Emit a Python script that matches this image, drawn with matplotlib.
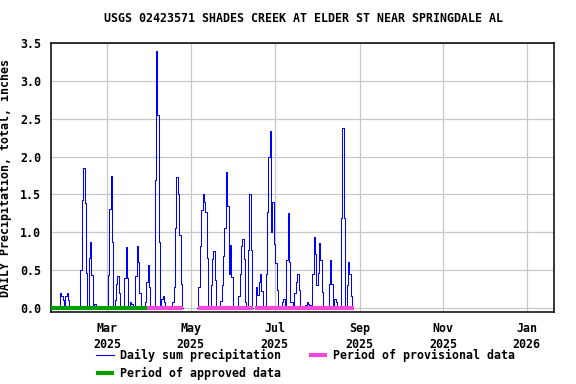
import matplotlib
matplotlib.use("Agg")
import matplotlib.pyplot as plt
import numpy as np
import pandas as pd

# --- Daily precipitation (inches); days not listed are 0.0 ---
rain_dates = [
    "2025-01-26", "2025-01-27", "2025-01-28", "2025-01-30", "2025-01-31", "2025-02-01",
    "2025-02-10", "2025-02-11", "2025-02-12", "2025-02-13", "2025-02-14",
    "2025-02-16", "2025-02-17", "2025-02-18", "2025-02-20",
    "2025-03-02", "2025-03-03", "2025-03-04", "2025-03-05",
    "2025-03-07", "2025-03-08", "2025-03-09", "2025-03-10",
    "2025-03-14", "2025-03-15", "2025-03-16", "2025-03-18", "2025-03-19",
    "2025-03-22", "2025-03-23", "2025-03-24", "2025-03-25",
    "2025-03-29", "2025-03-30", "2025-03-31", "2025-04-01",
    "2025-04-05", "2025-04-06", "2025-04-07", "2025-04-08",
    "2025-04-09", "2025-04-10", "2025-04-11", "2025-04-12",
    "2025-04-18", "2025-04-19", "2025-04-20", "2025-04-21", "2025-04-22", "2025-04-23", "2025-04-24",
    "2025-05-07", "2025-05-08", "2025-05-09", "2025-05-10", "2025-05-11", "2025-05-12", "2025-05-13",
    "2025-05-16", "2025-05-17", "2025-05-18", "2025-05-19",
    "2025-05-23", "2025-05-24", "2025-05-25", "2025-05-26", "2025-05-27", "2025-05-28",
    "2025-05-29", "2025-05-30", "2025-05-31",
    "2025-06-05", "2025-06-06", "2025-06-07", "2025-06-08", "2025-06-09", "2025-06-10",
    "2025-06-12", "2025-06-13", "2025-06-14",
    "2025-06-18", "2025-06-19", "2025-06-20", "2025-06-21", "2025-06-22",
    "2025-06-25", "2025-06-26", "2025-06-27", "2025-06-28", "2025-06-29", "2025-06-30",
    "2025-07-01", "2025-07-02", "2025-07-03",
    "2025-07-07", "2025-07-08", "2025-07-10", "2025-07-11", "2025-07-12", "2025-07-13", "2025-07-14",
    "2025-07-16", "2025-07-17", "2025-07-18", "2025-07-19",
    "2025-07-24", "2025-07-25", "2025-07-26", "2025-07-27", "2025-07-28",
    "2025-07-29", "2025-07-30", "2025-07-31", "2025-08-01", "2025-08-02", "2025-08-03",
    "2025-08-04", "2025-08-05",
    "2025-08-10", "2025-08-11", "2025-08-12", "2025-08-14", "2025-08-15",
    "2025-08-19", "2025-08-20", "2025-08-21",
    "2025-08-23", "2025-08-24", "2025-08-25", "2025-08-26",
]
rain_values = [
    0.20, 0.16, 0.10, 0.16, 0.20, 0.10,
    0.50, 1.43, 1.85, 1.38, 0.46,
    0.66, 0.87, 0.43, 0.05,
    0.43, 1.30, 1.74, 0.87,
    0.10, 0.31, 0.42, 0.20,
    0.39, 0.80, 0.39, 0.07, 0.05,
    0.42, 0.82, 0.60, 0.20,
    0.08, 0.34, 0.56, 0.28,
    1.69, 3.40, 2.55, 0.87,
    0.04, 0.11, 0.15, 0.08,
    0.08, 0.28, 1.05, 1.73, 1.50, 0.96, 0.31,
    0.28, 0.82, 1.29, 1.50, 1.40, 1.27, 0.66,
    0.30, 0.64, 0.75, 0.37,
    0.09, 0.30, 0.68, 1.05, 1.80, 1.35,
    0.45, 0.83, 0.41,
    0.15, 0.45, 0.82, 0.91, 0.65, 0.07,
    0.77, 1.51, 0.76,
    0.28, 0.17, 0.34, 0.45, 0.22,
    0.45, 1.27, 2.00, 2.34, 1.00, 1.40,
    0.84, 0.59, 0.23,
    0.07, 0.12, 0.63, 1.25, 0.61, 0.07, 0.08,
    0.19, 0.34, 0.45, 0.23,
    0.04, 0.08, 0.05, 0.04, 0.03,
    0.45, 0.93, 0.71, 0.30, 0.46, 0.85,
    0.63, 0.21,
    0.32, 0.63, 0.32, 0.11, 0.07,
    1.19, 2.38, 1.19,
    0.30, 0.60, 0.45, 0.15,
]

record_start = "2025-01-19"
record_end = "2025-08-27"
# days with no record (line is broken there)
missing_spans = [("2025-04-26", "2025-05-06"), ("2025-06-16", "2025-06-17")]

approved_periods = [("2025-01-19", "2025-03-30")]
provisional_periods = [("2025-03-30", "2025-04-25"),
                       ("2025-05-06", "2025-06-15"),
                       ("2025-06-17", "2025-08-28")]

x_start, x_end = "2025-01-19", "2026-01-21"
tick_dates = ["2025-03-01", "2025-05-01", "2025-07-01", "2025-09-01", "2025-11-01", "2026-01-01"]

title = "USGS 02423571 SHADES CREEK AT ELDER ST NEAR SPRINGDALE AL"
y_label = "DAILY Precipitation, total, inches"

# --- build the daily series ---
days = pd.date_range(record_start, record_end, freq="D")
series = pd.Series(0.0, index=days)
series[pd.to_datetime(rain_dates)] = rain_values
for a, b in missing_spans:
    series[(series.index >= a) & (series.index < b)] = np.nan

plt.rcParams["font.family"] = ["DejaVu Sans Mono"]
plt.rcParams["font.weight"] = "bold"
FS = 8.4
BLUE, GREEN, PINK = "#0000ff", "#00a000", "#f048dc"

fig = plt.figure(figsize=(5.76, 3.84), dpi=100)
ax = fig.add_axes([0.0885, 0.1875, 0.9623 - 0.0885, 0.8872 - 0.1875])

ax.plot(series.index, series.values, color=BLUE, lw=0.75, drawstyle="steps-mid", zorder=3)

for a, b in approved_periods:
    ax.plot(pd.to_datetime([a, b]), [0, 0], color=GREEN, lw=3.0,
            solid_capstyle="butt", zorder=4)
for a, b in provisional_periods:
    ax.plot(pd.to_datetime([a, b]), [0, 0], color=PINK, lw=3.0,
            solid_capstyle="butt", zorder=4)

ax.set_xlim(pd.Timestamp(x_start), pd.Timestamp(x_end))
ax.set_ylim(-0.057, 3.5)
yt = np.arange(0, 3.51, 0.5)
ax.set_yticks(yt)
ax.set_yticklabels([f"{v:.1f}" for v in yt], fontsize=FS, fontweight="bold")
ticks = pd.to_datetime(tick_dates)
ax.set_xticks(ticks)
ax.set_xticklabels([t.strftime("%b\n%Y") for t in ticks], fontsize=FS,
                   fontweight="bold", linespacing=1.3)
ax.tick_params(axis="both", length=0)
ax.tick_params(axis="x", pad=7)
ax.tick_params(axis="y", pad=7)

ax.grid(True, color="#c8c8c8", lw=0.9)
ax.set_axisbelow(True)
for sp in ax.spines.values():
    sp.set_linewidth(1.1)
    sp.set_color("black")

ax.set_ylabel(y_label, fontsize=FS, fontweight="bold")
ax.yaxis.set_label_coords(-0.077, 0.5)

fig.text(304 / 576, 1 - 19 / 384, title, ha="center", va="center",
         fontsize=FS, fontweight="bold")

handles = [
    plt.Line2D([], [], color=BLUE, lw=0.8),
    plt.Line2D([], [], color=GREEN, lw=3.0, solid_capstyle="butt"),
    plt.Line2D([], [], color=PINK, lw=3.0, solid_capstyle="butt"),
]
labels = ["Daily sum precipitation", "Period of approved data", "Period of provisional data"]
fig.legend(handles, labels, loc="upper left", bbox_to_anchor=(96 / 576, 1 - 349 / 384),
           ncol=2, frameon=False, borderpad=0, borderaxespad=0,
           handlelength=1.55, handletextpad=0.5, columnspacing=2.4, labelspacing=0.45,
           prop={"family": "DejaVu Sans Mono", "weight": "bold", "size": FS})

fig.savefig("out.png", dpi=100)
